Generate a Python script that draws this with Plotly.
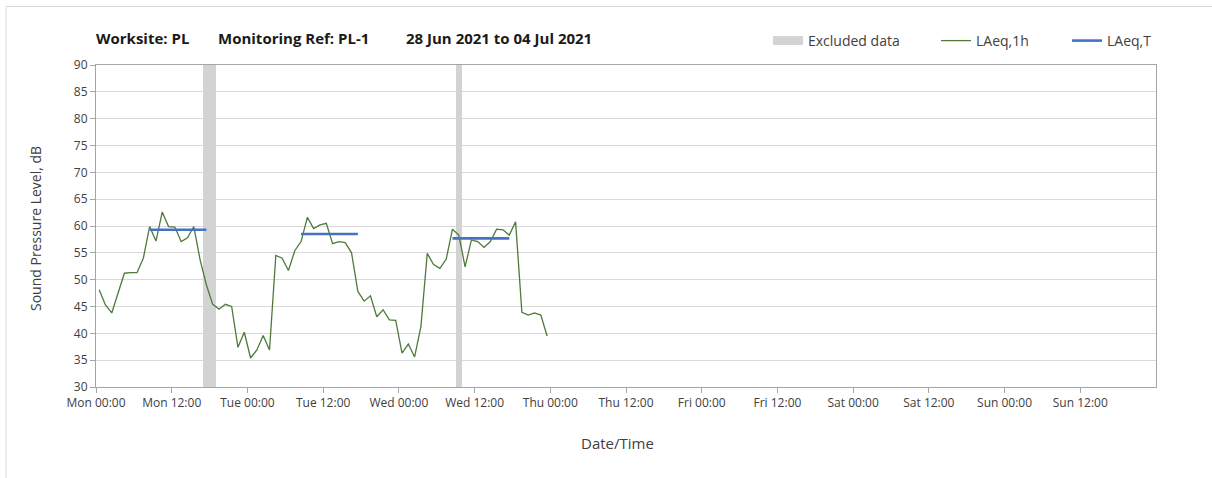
import plotly.graph_objects as go
import pandas as pd

# ---- data ----
laeq_1h = [48.1, 45.3, 43.8, 47.5, 51.2, 51.3, 51.3, 54.0, 59.9, 57.2, 62.6, 59.9,
           59.8, 57.1, 57.8, 59.9, 53.7, 49.0, 45.4, 44.5, 45.4, 45.0, 37.4, 40.2,
           35.4, 36.9, 39.6, 36.9, 54.5, 54.0, 51.7, 55.4, 57.1, 61.6, 59.5, 60.2,
           60.5, 56.7, 57.1, 56.9, 55.0, 47.8, 46.0, 47.0, 43.1, 44.4, 42.5, 42.4,
           36.3, 38.0, 35.6, 41.3, 54.9, 52.8, 52.1, 53.8, 59.4, 58.3, 52.4, 57.4,
           57.1, 56.0, 57.1, 59.4, 59.3, 58.3, 60.8, 43.9, 43.4, 43.8, 43.4, 39.5]
times_1h = pd.date_range("2021-06-28 00:30", periods=len(laeq_1h), freq="h")

laeq_t_start = ["2021-06-28 08:30", "2021-06-29 08:30", "2021-06-30 08:30"]
laeq_t_end = ["2021-06-28 17:30", "2021-06-29 17:30", "2021-06-30 17:30"]
laeq_t = [59.3, 58.5, 57.7]

excluded_start = ["2021-06-28 17:00", "2021-06-30 09:00"]
excluded_end = ["2021-06-28 19:00", "2021-06-30 10:00"]

tick_times = pd.date_range("2021-06-28 00:00", periods=14, freq="12h")
tick_labels = ["Mon 00:00", "Mon 12:00", "Tue 00:00", "Tue 12:00", "Wed 00:00",
               "Wed 12:00", "Thu 00:00", "Thu 12:00", "Fri 00:00", "Fri 12:00",
               "Sat 00:00", "Sat 12:00", "Sun 00:00", "Sun 12:00"]
day_lines = pd.date_range("2021-06-29 00:00", periods=6, freq="D")
x_start, x_end = "2021-06-28 00:00", "2021-07-05 00:00"
y_min, y_max = 30, 90

FONT = "Open Sans"
GRID = "#d9d9d9"
AXIS = "#a6a6a6"

# ---- build ----
ex_s = pd.to_datetime(excluded_start)
ex_e = pd.to_datetime(excluded_end)
ex_center = ex_s + (ex_e - ex_s) / 2
ex_width = [(e - s).total_seconds() * 1000 for s, e in zip(ex_s, ex_e)]

bx, by = [], []
for s, e, v in zip(laeq_t_start, laeq_t_end, laeq_t):
    bx += [s, e, None]
    by += [v, v, None]

fig = go.Figure()
fig.add_trace(go.Bar(
    x=ex_center, y=[y_max - y_min] * len(ex_center), base=[y_min] * len(ex_center),
    width=ex_width, marker=dict(color="#d3d3d3", line=dict(width=0)),
    showlegend=False, hoverinfo="skip", name="Excluded data"))
# legend entry for excluded data (drawn as a wide grey swatch)
fig.add_trace(go.Scatter(x=[None], y=[None], mode="lines", name="Excluded data",
                         line=dict(color="#d3d3d3", width=9), legend="legend"))
fig.add_trace(go.Scatter(x=times_1h, y=laeq_1h, mode="lines", name="LAeq,1h",
                         line=dict(color="#4e7a3a", width=1.3), legend="legend2"))
fig.add_trace(go.Scatter(x=bx, y=by, mode="lines", name="LAeq,T",
                         line=dict(color="#4472c4", width=2.6), legend="legend3"))

W, H = 1212, 478
L, R, T, B = 96, 56, 65, 91
pw, ph = W - L - R, H - T - B


def px(xp):
    return (xp - L) / pw


def py(yp):
    return (H - B - yp) / ph


tickfont = dict(family=FONT, size=12, color="#404040")
fig.update_layout(
    width=W, height=H, margin=dict(l=L, r=R, t=T, b=B),
    paper_bgcolor="white", plot_bgcolor="white",
    barmode="overlay", bargap=0,
    font=dict(family=FONT, color="#404040"),
    xaxis=dict(range=[x_start, x_end], type="date", tickvals=tick_times,
               ticktext=tick_labels, ticks="outside", ticklen=5, tickcolor=AXIS,
               showgrid=False, showline=True, linecolor=AXIS, linewidth=1,
               mirror=True, tickfont=tickfont, zeroline=False),
    xaxis2=dict(range=[x_start, x_end], type="date", overlaying="x",
                tickvals=day_lines, showticklabels=False, ticks="",
                showgrid=True, gridcolor=GRID, gridwidth=1.3, showline=False,
                zeroline=False),
    yaxis=dict(range=[y_min, y_max], dtick=5, ticks="outside", ticklen=5,
               tickcolor=AXIS, showgrid=True, gridcolor=GRID, gridwidth=1.3,
               showline=True, linecolor=AXIS, linewidth=1, mirror=True,
               tickfont=tickfont, zeroline=False),
    showlegend=True,
)
legfont = dict(family=FONT, size=14, color="#404040")
for name, xpix in [("legend", 768), ("legend2", 936), ("legend3", 1067)]:
    fig.update_layout({name: dict(x=px(xpix), y=py(41), xanchor="left",
                                  yanchor="middle", orientation="h",
                                  bgcolor="rgba(0,0,0,0)", font=legfont,
                                  itemwidth=30)})

ann = []
for text, xpix in [("Worksite: PL", 94), ("Monitoring Ref: PL-1", 216),
                   ("28 Jun 2021 to 04 Jul 2021", 404)]:
    ann.append(dict(text="<b>%s</b>" % text, xref="paper", yref="paper",
                    x=px(xpix), y=py(38), xanchor="left", yanchor="middle",
                    showarrow=False,
                    font=dict(family=FONT, size=15, color="#1a1a1a")))
ann.append(dict(text="Sound Pressure Level, dB", xref="paper", yref="paper",
                x=px(35), y=py(229), textangle=-90, showarrow=False,
                xanchor="center", yanchor="middle",
                font=dict(family=FONT, size=14, color="#404040")))
ann.append(dict(text="Date/Time", xref="paper", yref="paper",
                x=px(617), y=py(443), showarrow=False,
                xanchor="center", yanchor="middle",
                font=dict(family=FONT, size=15, color="#404040")))
fig.update_layout(annotations=ann)

fig.add_shape(type="line", xref="paper", yref="paper", x0=px(6), x1=px(W),
              y0=py(6.5), y1=py(6.5), line=dict(color=GRID, width=1))
fig.add_shape(type="line", xref="paper", yref="paper", x0=px(6), x1=px(6),
              y0=py(6.5), y1=py(H), line=dict(color=GRID, width=1))

fig.write_html("out.html", config={"displayModeBar": False},
               post_script="document.body.style.margin='0px';"
                           "document.body.style.overflow='hidden';")
